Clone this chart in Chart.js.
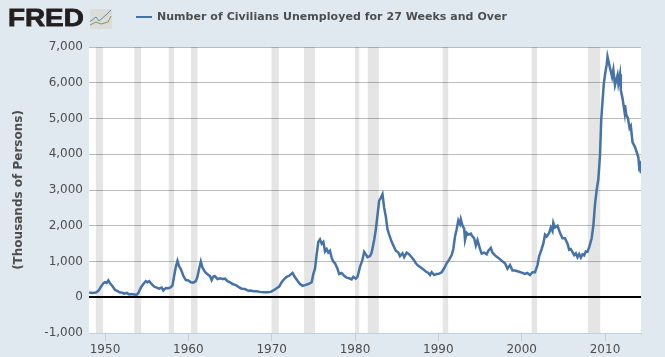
<!DOCTYPE html>
<html>
<head>
<meta charset="utf-8">
<title>Number of Civilians Unemployed for 27 Weeks and Over</title>
<script src="https://cdn.jsdelivr.net/npm/chart.js@4/dist/chart.umd.min.js"></script>
<style>
    html, body { margin: 0; padding: 0; background: #e1e9f0; }
    #wrap { position: relative; width: 665px; height: 357px; overflow: hidden; }
    #chart { position: absolute; left: 0; top: 0; }
    #logo { position: absolute; left: 8px; top: 4px; font: bold 24px/28px "Liberation Sans", sans-serif; color: #231f20; -webkit-text-stroke: 0.8px #231f20; transform: scaleX(1.16); transform-origin: left top; }
    #icon { position: absolute; left: 90px; top: 9px; }
    #legend-line { position: absolute; left: 136px; top: 16px; width: 16px; height: 2px; background: #4572a7; }
    #legend-text { position: absolute; left: 157px; top: 9px; font: bold 11px/16px "DejaVu Sans", sans-serif; letter-spacing: 0.04px; color: #4d4d4d; white-space: nowrap; }
</style>
</head>
<body>
<div id="wrap">
    <canvas id="chart" width="665" height="357"></canvas>
    <div id="logo">FRED</div>
    <svg id="icon" width="22" height="20">
        <rect x="0" y="0" width="22" height="20" rx="1" fill="#dcdcd8"/>
        <polyline points="0,12.7 6,8 9,12 16,6 21,1" fill="none" stroke="#5f8bb0" stroke-width="1"/>
        <polyline points="0,16 6,13 11,15 18,13 21,7" fill="none" stroke="#7fa04f" stroke-width="1"/>
    </svg>
    <div id="legend-line"></div>
    <div id="legend-text">Number of Civilians Unemployed for 27 Weeks and Over</div>
</div>
<script>
// Values (thousands of persons)
const seriesYears = [
    1948.1, 1948.5, 1948.9, 1949.2, 1949.5, 1949.8, 1950.0, 1950.2, 1950.4, 1950.6, 1950.9,
    1951.2, 1951.5, 1951.8, 1952.0, 1952.3, 1952.6, 1952.9, 1953.2, 1953.5, 1953.8,
    1954.0, 1954.3, 1954.6, 1954.9, 1955.1, 1955.3, 1955.6, 1955.9, 1956.2, 1956.5, 1956.8,
    1957.0, 1957.3, 1957.6, 1957.9, 1958.1, 1958.3, 1958.5, 1958.7, 1958.9, 1959.1, 1959.4, 1959.7,
    1960.0, 1960.3, 1960.6, 1960.9, 1961.1, 1961.3, 1961.5, 1961.7, 1962.0, 1962.3, 1962.6, 1962.8,
    1963.0, 1963.2, 1963.5, 1963.8, 1964.1, 1964.4, 1964.7, 1965.0, 1965.3, 1965.7,
    1966.0, 1966.4, 1966.8, 1967.2, 1967.5, 1967.8, 1968.2, 1968.6, 1969.0, 1969.5, 1969.9,
    1970.2, 1970.6, 1970.9, 1971.2, 1971.5, 1971.8, 1972.1, 1972.3, 1972.5, 1972.8,
    1973.1, 1973.4, 1973.7, 1974.0, 1974.4, 1974.8, 1975.0, 1975.2, 1975.4, 1975.6, 1975.8,
    1976.0, 1976.2, 1976.4, 1976.6, 1976.8, 1977.0, 1977.2, 1977.4, 1977.6, 1977.9,
    1978.1, 1978.4, 1978.7, 1979.0, 1979.3, 1979.6, 1979.8, 1980.1, 1980.3, 1980.6, 1980.9,
    1981.1, 1981.3, 1981.5, 1981.8, 1982.0, 1982.3, 1982.5, 1982.7, 1982.9,
    1983.1, 1983.3, 1983.5, 1983.7, 1983.9, 1984.1, 1984.4, 1984.7, 1984.9,
    1985.2, 1985.4, 1985.7, 1985.9, 1986.2, 1986.5, 1986.8, 1987.1, 1987.3, 1987.6, 1987.9,
    1988.2, 1988.5, 1988.8, 1989.0, 1989.2, 1989.5, 1989.8, 1990.1, 1990.4, 1990.7,
    1991.0, 1991.3, 1991.6, 1991.8, 1992.0, 1992.2, 1992.4, 1992.6, 1992.7, 1992.9,
    1993.1, 1993.2, 1993.4, 1993.6, 1993.9, 1994.1, 1994.3, 1994.5, 1994.7,
    1995.0, 1995.2, 1995.5, 1995.8, 1996.0, 1996.3, 1996.5, 1996.8, 1997.2, 1997.6,
    1998.0, 1998.3, 1998.6, 1998.9, 1999.2, 1999.6, 2000.0, 2000.4, 2000.7,
    2001.0, 2001.3, 2001.6, 2001.9, 2002.1, 2002.4, 2002.6, 2002.8, 2003.0, 2003.3, 2003.5, 2003.7, 2003.8,
    2004.0, 2004.3, 2004.6, 2004.9, 2005.2, 2005.5, 2005.7, 2005.9, 2006.1, 2006.3, 2006.5, 2006.7, 2006.9,
    2007.1, 2007.3, 2007.5, 2007.7, 2007.9, 2008.1, 2008.2, 2008.4, 2008.6, 2008.8,
    2009.0, 2009.2, 2009.4, 2009.55, 2009.85, 2010.05, 2010.2, 2010.3, 2010.6, 2010.85,
    2011.0, 2011.2, 2011.5, 2011.6, 2011.8, 2011.9, 2012.1, 2012.35, 2012.4, 2012.55, 2012.75, 2012.95,
    2013.1, 2013.3, 2013.6, 2014.0, 2014.1, 2014.2, 2014.3
];
const seriesValues = [
    130, 120, 130, 180, 290, 390, 420, 400, 470, 390, 310,
    210, 170, 130, 130, 100, 120, 80, 90, 80, 70,
    120, 270, 370, 450, 420, 450, 370, 300, 270, 240, 270,
    190, 260, 250, 280, 330, 600, 850, 1020, 860, 790, 600, 480,
    470, 420, 410, 450, 580, 800, 1000, 830, 710, 640, 590, 480,
    580, 590, 510, 530, 510, 520, 450, 420, 370, 340,
    290, 240, 230, 180, 190, 170, 170, 150, 140, 140, 150,
    190, 250, 300, 420, 510, 570, 600, 640, 680, 560,
    460, 370, 320, 340, 370, 420, 650, 800, 1200, 1550, 1620,
    1500, 1550, 1280, 1350, 1250, 1300, 1100, 1000, 950, 800,
    650, 680, 600, 550, 530, 500, 570, 520, 570, 850, 1050,
    1270, 1200, 1120, 1150, 1250, 1600, 1900, 2300, 2700,
    2780, 2880, 2500, 2250, 1900, 1750, 1550, 1400, 1300,
    1250, 1150, 1230, 1120, 1250, 1200, 1120, 1030, 950, 880, 830,
    780, 720, 680, 620, 700, 620, 650, 660, 700, 810,
    950, 1050, 1180, 1350, 1700, 1900, 2150, 2050, 2180, 2000,
    1920, 1600, 1800, 1750, 1780, 1700, 1650, 1450, 1600,
    1350, 1220, 1250, 1200, 1300, 1380, 1250, 1170, 1100, 1020,
    950, 800, 900, 750, 750, 720, 690, 650, 680,
    620, 700, 700, 900, 1150, 1350, 1500, 1750, 1700, 1800, 1950, 1850, 2080,
    1950, 2000, 1800, 1650, 1650, 1500, 1330, 1350, 1260, 1180, 1230, 1120, 1210,
    1110, 1200, 1170, 1280, 1270, 1400, 1480, 1650, 2000, 2600,
    3000, 3300, 3970, 4980, 5960, 6300, 6500, 6730, 6410, 6160,
    6360, 5930, 6210, 5980, 6240, 5790, 5570, 5180, 5370, 5100, 5010, 4730,
    4790, 4340, 4200, 3920, 3640, 3700, 3470
];

// Recession start and end dates (shaded bands)
const recessionStarts = [1948.88, 1953.5, 1957.62, 1960.29, 1969.96, 1973.88, 1980.0, 1981.5, 1990.5, 2001.17, 2007.92];
const recessionEnds = [1949.79, 1954.37, 1958.29, 1961.12, 1970.87, 1975.21, 1980.54, 1982.87, 1991.21, 2001.87, 2009.46];

const xTicks = [1950, 1960, 1970, 1980, 1990, 2000, 2010];
const yTicks = [-1000, 0, 1000, 2000, 3000, 4000, 5000, 6000, 7000];

const xMin = 1948.08;
const xMax = 2014.32;
const yMin = -1000;
const yMax = 7000;

const seriesName = 'Number of Civilians Unemployed for 27 Weeks and Over';
const yTitle = '(Thousands of Persons)';

// White plot background behind grid and bands
const plotBackground = {
    id: 'plotBackground',
    beforeDraw: function(chart) {
        const area = chart.chartArea;
        chart.ctx.save();
        chart.ctx.fillStyle = '#fff';
        chart.ctx.fillRect(area.left, area.top, area.right - area.left, area.bottom - area.top);
        chart.ctx.restore();
    }
};

const datasets = [{
    label: seriesName,
    data: seriesYears.map((year, i) => ({ x: year, y: seriesValues[i] })),
    borderColor: '#4572a7',
    borderWidth: 2.5,
    pointRadius: 0,
    tension: 0,
    fill: false
}];

recessionStarts.forEach((start, i) => {
    datasets.push({
        label: 'Recession ' + (i + 1),
        data: [{ x: start, y: yMax }, { x: recessionEnds[i], y: yMax }],
        backgroundColor: 'rgba(0, 0, 0, 0.1)',
        borderWidth: 0,
        pointRadius: 0,
        fill: { value: yMin }
    });
});

new Chart(document.getElementById('chart'), {
    type: 'line',
    data: { datasets: datasets },
    plugins: [plotBackground],
    options: {
        responsive: false,
        animation: false,
        layout: { padding: { left: 0, right: 24, top: 47, bottom: 0 } },
        plugins: {
            legend: { display: false },
            tooltip: { enabled: false }
        },
        scales: {
            x: {
                type: 'linear',
                min: xMin,
                max: xMax,
                afterBuildTicks: function(scale) {
                    scale.ticks = xTicks.map(v => ({ value: v }));
                },
                afterFit: function(scale) {
                    scale.height = 24;
                },
                border: { color: '#c0d0e0' },
                grid: { drawOnChartArea: false, color: '#c0d0e0', tickLength: 8 },
                ticks: {
                    color: '#4d4d4d',
                    padding: 2,
                    maxRotation: 0,
                    autoSkip: false,
                    font: { family: '"DejaVu Sans"', size: 12 },
                    callback: function(value) {
                        return String(value);
                    }
                }
            },
            y: {
                min: yMin,
                max: yMax,
                afterBuildTicks: function(scale) {
                    scale.ticks = yTicks.map(v => ({ value: v }));
                },
                afterFit: function(scale) {
                    scale.width = 89;
                },
                border: { display: false },
                grid: {
                    drawTicks: false,
                    color: function(ctx) {
                        if (ctx.tick.value === 0) return '#000';
                        if (ctx.tick.value === yMin) return 'rgba(0, 0, 0, 0)';
                        return '#bbb';
                    },
                    lineWidth: function(ctx) {
                        return ctx.tick.value === 0 ? 2 : 1;
                    }
                },
                ticks: {
                    color: '#4d4d4d',
                    padding: 6,
                    autoSkip: false,
                    font: { family: '"DejaVu Sans"', size: 12 },
                    callback: function(value) {
                        return value.toLocaleString('en-US');
                    }
                },
                title: {
                    display: true,
                    text: yTitle,
                    color: '#4d4d4d',
                    padding: { top: 12, bottom: 0 },
                    font: { family: '"DejaVu Sans"', size: 12, weight: 'bold' }
                }
            }
        }
    }
});
</script>
</body>
</html>
